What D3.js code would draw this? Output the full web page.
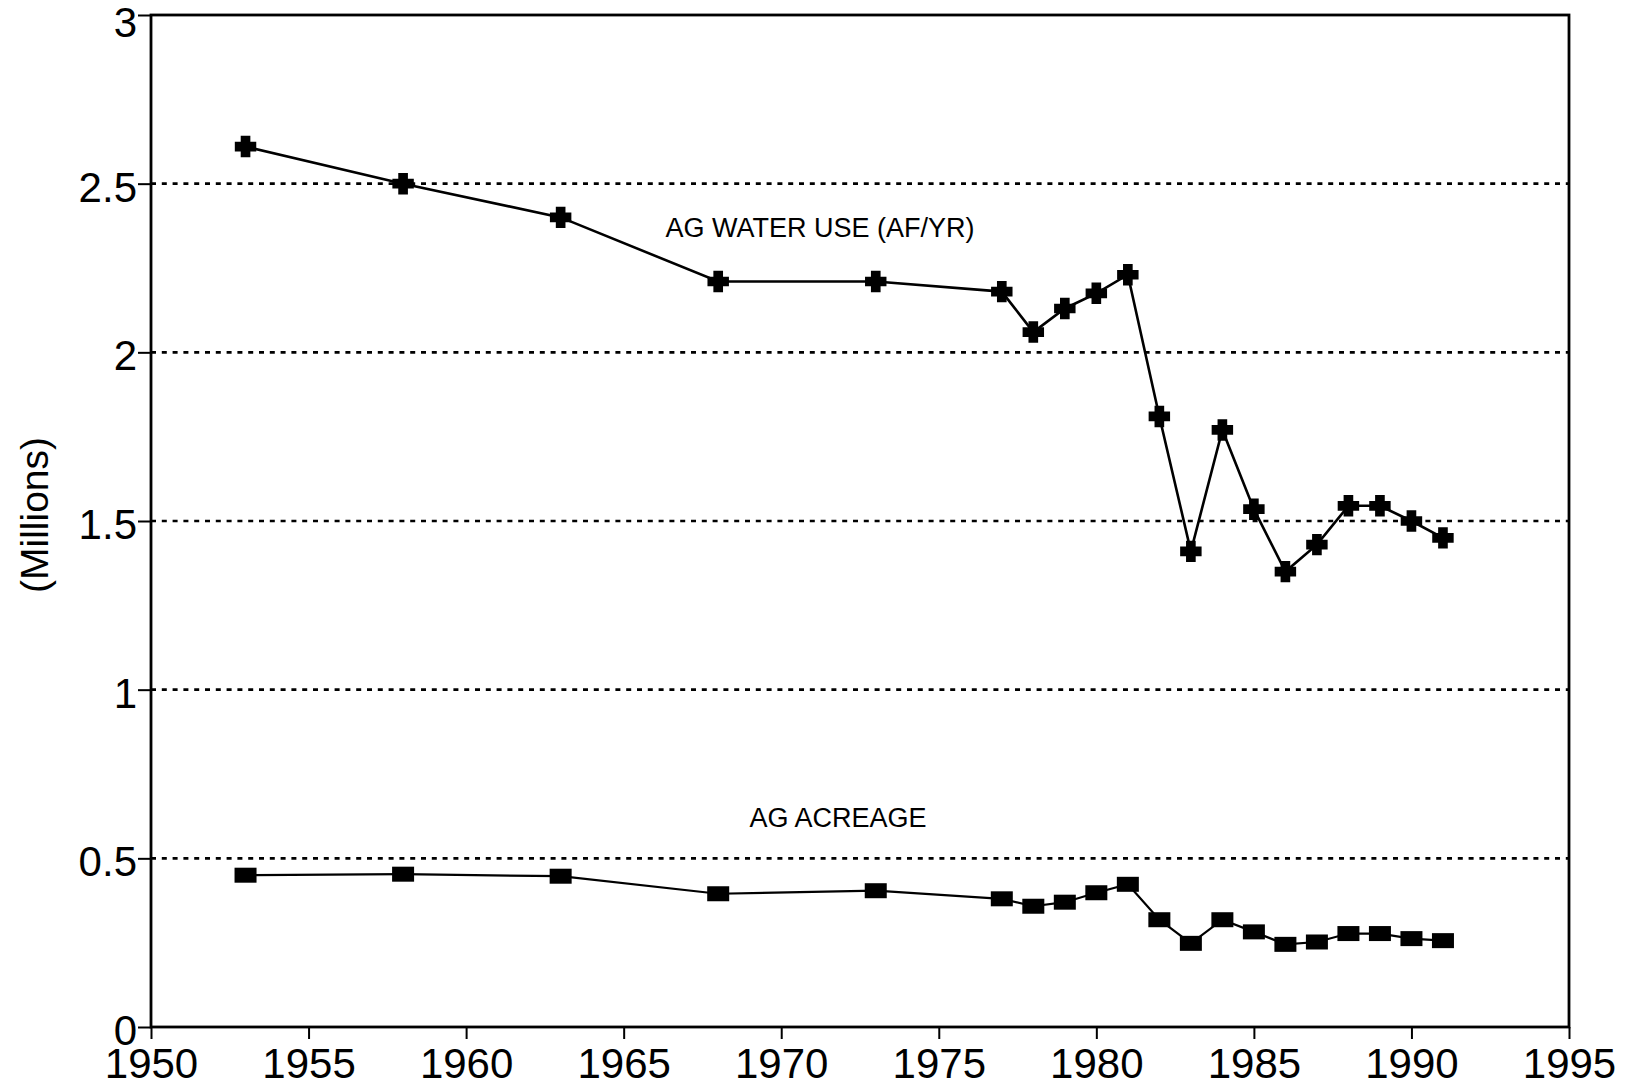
<!DOCTYPE html>
<html>
<head>
<meta charset="utf-8">
<title>Ag water use and acreage</title>
<script src="https://cdnjs.cloudflare.com/ajax/libs/d3/7.8.5/d3.min.js"></script>
<style>
  body { margin: 0; background: #fff; }
  text { font-family: 'Liberation Sans', Arial, Helvetica, sans-serif; fill: #000; }
</style>
</head>
<body>
<div id="plot"></div>
<script>
  // years sampled in the source
  var years = [1953, 1958, 1963, 1968, 1973, 1977, 1978, 1979, 1980, 1981,
               1982, 1983, 1984, 1985, 1986, 1987, 1988, 1989, 1990, 1991];
  // millions of acre-feet per year
  var waterUse = [2.61, 2.50, 2.40, 2.21, 2.21, 2.18, 2.06, 2.13, 2.175, 2.23,
                  1.81, 1.41, 1.77, 1.535, 1.35, 1.43, 1.545, 1.545, 1.50, 1.45];
  // millions of acres
  var acreage = [0.45, 0.453, 0.447, 0.395, 0.404, 0.38, 0.358, 0.37, 0.398, 0.423,
                 0.318, 0.248, 0.318, 0.282, 0.245, 0.252, 0.277, 0.277, 0.262, 0.256];
  var xTicks = [1950, 1955, 1960, 1965, 1970, 1975, 1980, 1985, 1990, 1995];
  var yTicks = [0, 0.5, 1, 1.5, 2, 2.5, 3];
  var gridVals = [0.5, 1, 1.5, 2, 2.5];

  var w = 1625, h = 1088;
  var mLeft = 151, mRight = 1569, mTop = 15, mBottom = 1027;

  var svg = d3.select("#plot").append("svg")
      .attr("width", w)
      .attr("height", h);

  var x = d3.scaleLinear().domain([1950, 1995]).range([mLeft, mRight]);
  var y = d3.scaleLinear().domain([0, 3]).range([mBottom, mTop]);

  // dotted gridlines
  svg.selectAll(".grid")
    .data(gridVals)
    .enter().append("line")
    .attr("class", "grid")
    .attr("x1", mLeft).attr("x2", mRight)
    .attr("y1", function(d) { return y(d); })
    .attr("y2", function(d) { return y(d); })
    .attr("stroke", "#000")
    .attr("stroke-width", 2.6)
    .attr("stroke-dasharray", "5,5.8");

  // axes
  var xAxis = d3.axisBottom(x).tickValues(xTicks).tickFormat(d3.format("d"))
      .tickSizeInner(12).tickSizeOuter(0).tickPadding(9);
  var yAxis = d3.axisLeft(y).tickValues(yTicks).tickFormat(function(d) { return d; })
      .tickSizeInner(13).tickSizeOuter(0).tickPadding(1);

  var gx = svg.append("g").attr("transform", "translate(0," + mBottom + ")").call(xAxis);
  var gy = svg.append("g").attr("transform", "translate(" + mLeft + ",0)").call(yAxis);

  [gx, gy].forEach(function(g) {
    g.select(".domain").remove();
    g.selectAll("line").attr("stroke", "#000").attr("stroke-width", 2);
    g.selectAll("text").style("font-size", "42px").attr("fill", "#000");
  });
  gx.selectAll("text").attr("dy", "0.72em");
  gy.selectAll("text").attr("dy", function(d) { return d === 3 ? "0.5em" : "0.42em"; });

  // frame
  svg.append("rect")
    .attr("x", mLeft).attr("y", mTop)
    .attr("width", mRight - mLeft).attr("height", mBottom - mTop)
    .attr("fill", "none")
    .attr("stroke", "#000")
    .attr("stroke-width", 2.8);

  // y title
  svg.append("text")
    .attr("transform", "translate(48,515) rotate(-90)")
    .attr("text-anchor", "middle")
    .style("font-size", "39px")
    .text("(Millions)");

  var line = d3.line()
    .x(function(d, i) { return x(years[i]); })
    .y(function(d) { return y(d); });

  svg.append("path")
    .datum(waterUse)
    .attr("d", line)
    .attr("fill", "none")
    .attr("stroke", "#000")
    .attr("stroke-width", 2.6);

  svg.append("path")
    .datum(acreage)
    .attr("d", line)
    .attr("fill", "none")
    .attr("stroke", "#000")
    .attr("stroke-width", 2.2);

  // fat plus marker
  var plus = {
    draw: function(ctx, size) {
      var r = Math.sqrt(size) / 2, a = r * 0.45;
      ctx.moveTo(-a, -r); ctx.lineTo(a, -r); ctx.lineTo(a, -a); ctx.lineTo(r, -a);
      ctx.lineTo(r, a); ctx.lineTo(a, a); ctx.lineTo(a, r); ctx.lineTo(-a, r);
      ctx.lineTo(-a, a); ctx.lineTo(-r, a); ctx.lineTo(-r, -a); ctx.lineTo(-a, -a);
      ctx.closePath();
    }
  };

  svg.selectAll(".pt-water")
    .data(waterUse)
    .enter().append("path")
    .attr("class", "pt-water")
    .attr("d", d3.symbol().type(plus).size(460))
    .attr("transform", function(d, i) { return "translate(" + x(years[i]) + "," + y(d) + ")"; })
    .attr("fill", "#000");

  svg.selectAll(".pt-acre")
    .data(acreage)
    .enter().append("rect")
    .attr("class", "pt-acre")
    .attr("x", function(d, i) { return x(years[i]) - 11; })
    .attr("y", function(d) { return y(d) - 7.5; })
    .attr("width", 22)
    .attr("height", 15)
    .attr("fill", "#000");

  // series labels
  svg.append("text")
    .attr("x", 820).attr("y", 237)
    .attr("text-anchor", "middle")
    .style("font-size", "27px")
    .text("AG WATER USE (AF/YR)");

  svg.append("text")
    .attr("x", 838).attr("y", 827)
    .attr("text-anchor", "middle")
    .style("font-size", "27px")
    .text("AG ACREAGE");
</script>
</body>
</html>
